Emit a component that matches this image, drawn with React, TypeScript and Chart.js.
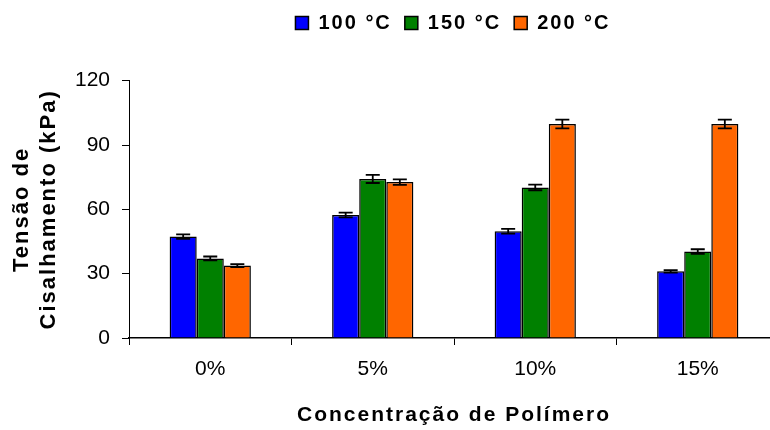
import React, { useEffect, useRef } from "react";
import { Chart, registerables } from "chart.js";

Chart.register(...registerables);

const categories = ["0%", "5%", "10%", "15%"];
const seriesLabels = ["100 °C", "150 °C", "200 °C"];
const values100 = [47.3, 57.4, 49.8, 31.1];
const values150 = [37.1, 74.2, 70.2, 40.3];
const values200 = [33.8, 72.7, 99.8, 99.8];
const err100 = [1.0, 1.1, 1.1, 0.6];
const err150 = [0.9, 1.9, 1.3, 1.1];
const err200 = [0.7, 1.3, 2.0, 2.0];
const yTicks = [0, 30, 60, 90, 120];

const FONT = "'Liberation Sans', Arial, sans-serif";
const SPACING = "2px";

const errorBarPlugin = {
  id: "errorBars",
  afterDatasetsDraw(chart: any) {
    const ctx = chart.ctx;
    const yScale = chart.scales.y;
    ctx.save();
    ctx.strokeStyle = "#000";
    ctx.lineWidth = 1.8;
    chart.data.datasets.forEach((ds: any, di: number) => {
      const meta = chart.getDatasetMeta(di);
      meta.data.forEach((bar: any, i: number) => {
        const v = ds.data[i];
        const e = ds.errors[i];
        const yTop = yScale.getPixelForValue(v + e);
        const yBot = yScale.getPixelForValue(v - e);
        const x = bar.x;
        const cap = 7;
        ctx.beginPath();
        ctx.moveTo(x, yTop);
        ctx.lineTo(x, yBot);
        ctx.moveTo(x - cap, yTop);
        ctx.lineTo(x + cap, yTop);
        ctx.moveTo(x - cap, yBot);
        ctx.lineTo(x + cap, yBot);
        ctx.stroke();
      });
    });
    ctx.restore();
  },
};

const spacingPlugin = {
  id: "letterSpacing",
  beforeUpdate(chart: any) {
    (chart.ctx as any).letterSpacing = SPACING;
  },
  beforeLayout(chart: any) {
    (chart.ctx as any).letterSpacing = SPACING;
  },
  beforeDraw(chart: any) {
    const ctx: any = chart.ctx;
    ctx.letterSpacing = SPACING;
    Object.values(chart.scales).forEach((scale: any) => {
      if (scale.__patched) return;
      const orig = scale.drawLabels.bind(scale);
      scale.drawLabels = (area: any) => {
        const prev = ctx.letterSpacing;
        ctx.letterSpacing = "0px";
        orig(area);
        ctx.letterSpacing = prev;
      };
      scale.__patched = true;
    });
  },
};

export default function App() {
  const ref = useRef<HTMLCanvasElement | null>(null);

  useEffect(() => {
    if (!ref.current) return;
    const chart = new Chart(ref.current, {
      type: "bar",
      data: {
        labels: categories,
        datasets: [
          { label: seriesLabels[0], data: values100, errors: err100, backgroundColor: "#0000FF", borderColor: "#000", borderWidth: 1.5 } as any,
          { label: seriesLabels[1], data: values150, errors: err150, backgroundColor: "#008000", borderColor: "#000", borderWidth: 1.5 } as any,
          { label: seriesLabels[2], data: values200, errors: err200, backgroundColor: "#FF6600", borderColor: "#000", borderWidth: 1.5 } as any,
        ],
      },
      options: {
        responsive: false,
        animation: false,
        layout: { padding: 0 },
        datasets: { bar: { categoryPercentage: 0.5, barPercentage: 1.0 } },
        plugins: {
          tooltip: { enabled: false },
          legend: {
            display: true,
            position: "top",
            align: "center",
            weight: 1000,
            labels: {
              boxWidth: 13,
              boxHeight: 13,
              padding: 13,
              color: "#000",
              font: { family: FONT, size: 20, weight: "bold" },
            },
          } as any,
          title: {
            display: true,
            text: "",
            weight: 500,
            font: { size: 10, lineHeight: 1 },
            padding: { top: 0, bottom: 27.7 },
          } as any,
        },
        scales: {
          x: {
            type: "category",
            offset: true,
            grid: {
              display: true,
              offset: true,
              drawOnChartArea: false,
              drawTicks: true,
              tickLength: 7,
              color: "#000",
              lineWidth: 1,
            },
            border: { display: true, color: "#000", width: 1.5 },
            ticks: {
              color: "#000",
              padding: 12,
              maxRotation: 0,
              minRotation: 0,
              font: { family: FONT, size: 21 },
            },
            title: {
              display: true,
              text: "Concentração de Polímero",
              color: "#000",
              font: { family: FONT, size: 21, weight: "bold", lineHeight: 1.2 },
              padding: { top: 0, bottom: 2 },
            },
            afterFit(scale: any) {
              scale.height = 92;
            },
          },
          y: {
            type: "linear",
            position: "left",
            min: 0,
            max: 120,
            afterBuildTicks(scale: any) {
              scale.ticks = yTicks.map((v) => ({ value: v }));
            },
            grid: {
              display: true,
              drawOnChartArea: false,
              drawTicks: true,
              tickLength: 7,
              color: "#000",
              lineWidth: 1,
            },
            border: { display: true, color: "#000", width: 1 },
            ticks: {
              color: "#000",
              padding: 12,
              font: { family: FONT, size: 21 },
            },
            title: {
              display: true,
              text: ["Tensão de", "Cisalhamento (kPa)"],
              color: "#000",
              font: { family: FONT, size: 22, weight: "bold", lineHeight: 1.25 },
              padding: { top: 8, bottom: 0 },
            },
            afterFit(scale: any) {
              scale.width = 129;
            },
          },
          yRight: {
            type: "linear",
            position: "right",
            display: true,
            grid: { display: false, drawTicks: false },
            border: { display: false },
            ticks: { display: false },
            afterFit(scale: any) {
              scale.width = 127;
            },
          },
        },
      } as any,
      plugins: [errorBarPlugin, spacingPlugin],
    });
    return () => chart.destroy();
  }, []);

  return (
    <div
      style={{
        position: "fixed",
        left: 0,
        top: 0,
        width: 770,
        height: 430,
        overflow: "hidden",
        background: "#fff",
      }}
    >
      <div style={{ width: 906, height: 430 }}>
        <canvas ref={ref} width={906} height={430} style={{ display: "block" }} />
      </div>
    </div>
  );
}
